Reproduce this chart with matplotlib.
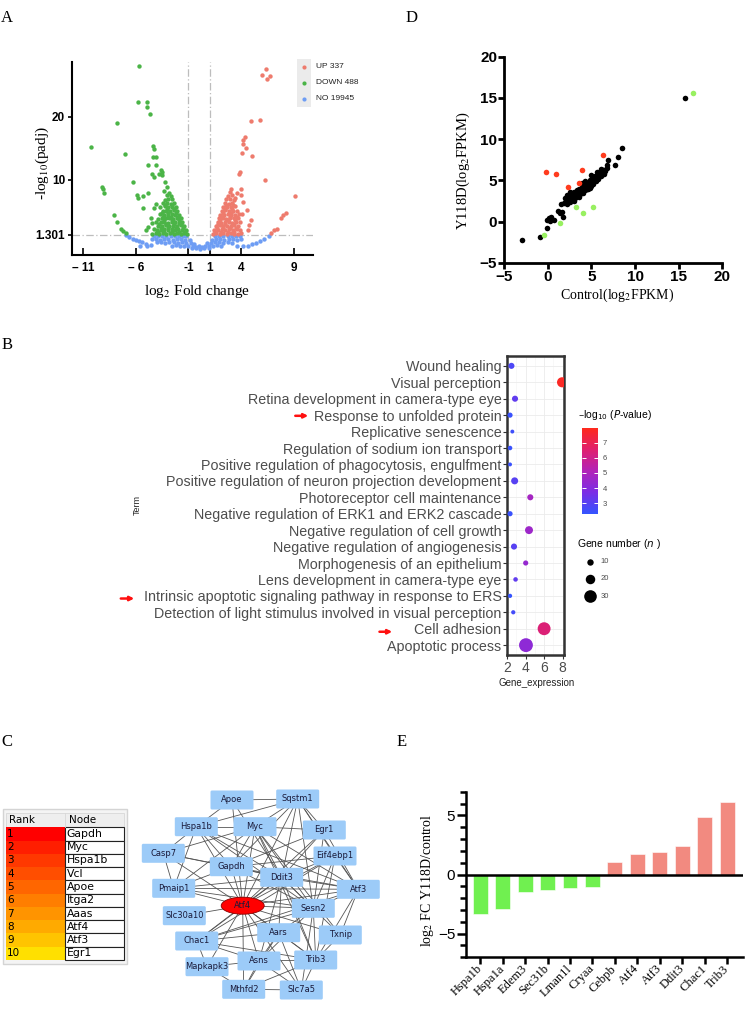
import numpy as np
import matplotlib
matplotlib.use("Agg")
import matplotlib.pyplot as plt
from matplotlib.patches import Rectangle, FancyBboxPatch, Ellipse, FancyArrowPatch
from matplotlib.colors import LinearSegmentedColormap, Normalize
from matplotlib.cm import ScalarMappable
from matplotlib.transforms import ScaledTranslation

plt.rcParams['font.family'] = ['Liberation Sans', 'DejaVu Sans']
SERIF = 'Liberation Serif'

# ---------------- A: volcano ----------------
up_count, down_count, no_count = 337, 488, 19945

up_pts = [(6.32, 27.6), (5.97, 26.6), (6.41, 26.0), (6.73, 26.5), (4.95, 19.4), (5.78, 19.5),
          (4.38, 16.8), (4.2, 16.4), (4.14, 15.7), (4.45, 15.0), (4.1, 14.3), (4.98, 13.8),
          (3.88, 11.3), (3.83, 11.0), (6.28, 10.0), (4.0, 8.5), (9.1, 7.5), (8.2, 4.8),
          (7.95, 4.4), (7.8, 3.9), (7.35, 2.3), (7.1, 2.0), (6.8, 1.6), (4.6, 2.1), (4.75, 2.8),
          (4.9, 3.6), (4.2, 6.5), (4.5, 5.2), (4.1, 4.6), (3.95, 7.6), (3.6, 8.0), (3.45, 7.2),
          (1.3, 1.5), (1.6, 1.6), (1.95, 1.45), (2.3, 1.55), (2.65, 1.5), (3.0, 1.6), (3.35, 1.45), (3.7, 1.5), (4.0, 1.6),
          (1.45, 2.1), (1.8, 2.0), (2.15, 2.2), (2.5, 2.05), (2.85, 2.15), (3.2, 2.0), (3.55, 2.2), (3.9, 2.1),
          (1.6, 2.7), (1.95, 2.8), (2.3, 2.65), (2.65, 2.75), (3.0, 2.7), (3.35, 2.8), (3.7, 2.65),
          (1.75, 3.3), (2.1, 3.25), (2.45, 3.4), (2.8, 3.3), (3.15, 3.2), (3.5, 3.35), (3.85, 3.3),
          (1.9, 3.9), (2.25, 4.0), (2.6, 3.85), (2.95, 3.95), (3.3, 3.9), (3.65, 4.0),
          (2.0, 4.5), (2.35, 4.45), (2.7, 4.6), (3.05, 4.5), (3.4, 4.4), (3.8, 4.55),
          (2.15, 5.1), (2.5, 5.2), (2.85, 5.05), (3.2, 5.15), (3.6, 5.1),
          (2.3, 5.7), (2.65, 5.75), (3.0, 5.65), (3.4, 5.8),
          (2.45, 6.3), (2.8, 6.25), (3.15, 6.4),
          (2.6, 6.9), (2.95, 7.0), (3.3, 6.85),
          (2.75, 7.5), (3.1, 7.55), (2.9, 8.1), (3.0, 8.6),
          (1.5, 1.8), (2.1, 1.8), (2.7, 1.8), (3.3, 1.8), (1.7, 2.4), (2.3, 2.4), (2.9, 2.4), (3.5, 2.4),
          (1.8, 3.0), (2.5, 3.0), (3.2, 3.0), (2.0, 3.6), (2.7, 3.6), (3.4, 3.6), (2.2, 4.2), (2.9, 4.2),
          (3.6, 4.2), (2.3, 4.8), (3.0, 4.8), (2.5, 5.45), (3.1, 5.45), (2.6, 6.0), (3.2, 6.05)]

down_pts = [(-5.66, 28.1), (-5.76, 22.3), (-4.9, 22.4), (-4.96, 21.6), (-4.65, 20.4), (-7.8, 19.1),
            (-10.27, 15.3), (-7.0, 14.1), (-4.4, 15.4), (-4.27, 14.9), (-4.33, 13.7), (-4.1, 13.6),
            (-4.87, 12.3), (-4.1, 12.3), (-3.6, 11.5), (-3.5, 11.2), (-3.8, 11.0), (-4.5, 11.0),
            (-4.3, 10.5), (-3.5, 10.8), (-6.3, 9.7), (-9.2, 8.9), (-9.1, 8.5), (-9.0, 8.0),
            (-3.07, 8.9), (-5.9, 7.6), (-5.8, 7.1), (-5.3, 7.5), (-4.85, 7.9), (-5.35, 5.5),
            (-4.1, 6.2), (-4.3, 5.6), (-8.1, 4.4), (-7.8, 3.4), (-7.4, 2.2), (-7.2, 1.9),
            (-6.9, 1.6), (-4.6, 4.0), (-4.5, 3.2), (-4.8, 2.6), (-5.0, 2.0), (-3.2, 9.6), (-3.3, 8.2),
            (-1.1, 1.5), (-1.4, 1.6), (-1.75, 1.45), (-2.1, 1.55), (-2.4, 1.5), (-2.75, 1.6), (-3.1, 1.45),
            (-3.4, 1.55), (-3.75, 1.5), (-4.1, 1.6), (-4.45, 1.45),
            (-1.25, 2.1), (-1.6, 2.0), (-1.95, 2.2), (-2.3, 2.05), (-2.6, 2.15), (-2.95, 2.0), (-3.3, 2.2),
            (-3.65, 2.1), (-4.0, 2.0), (-4.3, 2.15),
            (-1.4, 2.7), (-1.75, 2.8), (-2.1, 2.65), (-2.45, 2.75), (-2.8, 2.7), (-3.15, 2.8), (-3.5, 2.65), (-3.85, 2.75),
            (-1.6, 3.3), (-1.9, 3.25), (-2.25, 3.4), (-2.6, 3.3), (-2.95, 3.2), (-3.3, 3.35), (-3.65, 3.3), (-4.05, 3.4),
            (-1.75, 3.9), (-2.1, 4.0), (-2.45, 3.85), (-2.8, 3.95), (-3.15, 3.9), (-3.5, 4.0), (-3.9, 3.85),
            (-1.9, 4.5), (-2.25, 4.45), (-2.6, 4.6), (-2.95, 4.5), (-3.3, 4.4), (-3.7, 4.55),
            (-2.05, 5.1), (-2.4, 5.2), (-2.75, 5.05), (-3.1, 5.15), (-3.45, 5.1),
            (-2.2, 5.7), (-2.55, 5.75), (-2.9, 5.65), (-3.25, 5.8), (-3.7, 5.7),
            (-2.4, 6.3), (-2.7, 6.25), (-3.05, 6.4), (-3.4, 6.3),
            (-2.55, 6.9), (-2.9, 7.0), (-3.2, 6.85),
            (-2.7, 7.5), (-3.0, 7.55), (-2.85, 8.0),
            (-1.3, 1.8), (-1.9, 1.8), (-2.6, 1.8), (-3.3, 1.8), (-3.9, 1.8), (-1.5, 2.4), (-2.2, 2.4),
            (-2.9, 2.4), (-3.6, 2.4), (-1.7, 3.0), (-2.4, 3.0), (-3.1, 3.0), (-3.8, 3.0), (-1.9, 3.6),
            (-2.6, 3.6), (-3.3, 3.6), (-2.0, 4.2), (-2.7, 4.2), (-3.4, 4.2), (-2.2, 4.8), (-2.9, 4.8),
            (-3.5, 4.8), (-2.35, 5.45), (-3.0, 5.45), (-2.6, 6.05), (-3.2, 6.05)]

no_pts = [(-6.9, 1.2), (-6.6, 0.9), (-6.3, 0.7), (-6.0, 0.5), (-5.7, 0.3), (-5.4, 0.1), (-5.0, -0.1),
          (-4.6, -0.3), (-5.6, -0.4), (-4.9, -0.5),
          (-4.3, 1.1), (-3.9, 1.05), (-3.5, 1.15), (-3.1, 1.1), (-2.7, 1.05), (-2.3, 1.15), (-1.9, 1.1), (-1.5, 1.05), (-1.2, 1.1),
          (1.5, 1.1), (1.9, 1.05), (2.3, 1.15), (2.7, 1.1), (3.1, 1.05), (3.5, 1.15), (3.9, 1.1),
          (-4.5, 0.6), (-4.1, 0.65), (-3.7, 0.55), (-3.3, 0.6), (-2.9, 0.65), (-2.5, 0.55), (-2.1, 0.6), (-1.7, 0.65), (-1.3, 0.55), (-0.9, 0.5),
          (1.2, 0.5), (1.6, 0.6), (2.0, 0.65), (2.4, 0.55), (2.8, 0.6), (3.2, 0.65), (3.6, 0.55), (4.0, 0.6),
          (-4.0, 0.1), (-3.6, 0.15), (-3.2, 0.05), (-2.8, 0.1), (-2.4, 0.15), (-2.0, 0.05), (-1.6, 0.1), (-1.2, 0.05), (-0.8, 0.0), (-0.5, -0.1),
          (0.8, -0.05), (1.1, 0.05), (1.5, 0.1), (1.9, 0.15), (2.3, 0.05), (2.7, 0.1), (3.1, 0.0),
          (-2.6, -0.4), (-2.2, -0.35), (-1.8, -0.45), (-1.4, -0.4), (-1.0, -0.5), (-0.6, -0.55), (-0.3, -0.6),
          (0.0, -0.55), (0.3, -0.6), (0.6, -0.5), (0.9, -0.45), (1.3, -0.4), (1.7, -0.35), (2.1, -0.4),
          (-0.7, -0.8), (-0.3, -0.85), (0.1, -0.9), (0.5, -0.85), (0.9, -0.8),
          (3.6, -0.5), (4.2, -0.5), (4.6, -0.4), (5.0, -0.2), (5.4, 0.0), (5.8, 0.3), (6.2, 0.7), (6.6, 1.1)]

# ---------------- D: scatter ----------------
d_black = [(15.7, 15.0), (8.55, 8.9), (8.0, 7.85), (7.7, 6.85), (6.9, 7.45), (6.8, 6.9),
           (1.5, 2.1), (1.2, 1.3), (1.4, 1.0), (1.6, 1.1), (1.75, 0.6), (0.1, 0.4), (0.4, 0.6),
           (0.7, 0.2), (0.3, 0.1), (-0.1, 0.2), (-0.1, -0.75), (-0.88, -1.85), (-2.9, -2.25),
           (1.9, 2.3), (2.0, 2.9), (2.1, 2.6), (2.2, 2.1), (2.3, 2.8), (2.4, 3.2), (2.5, 2.4),
           (2.6, 2.9), (2.7, 3.4), (2.8, 2.7), (2.9, 3.1), (3.0, 3.6), (3.1, 2.9), (3.2, 3.3),
           (3.3, 3.8), (3.4, 3.1), (3.5, 3.5), (3.6, 4.0), (3.7, 3.3), (3.8, 3.7), (3.9, 4.2),
           (4.0, 3.5), (4.1, 3.9), (4.2, 4.4), (4.3, 3.8), (4.4, 4.2), (4.5, 4.7), (4.6, 4.0),
           (4.7, 4.5), (4.8, 5.0), (4.9, 4.3), (5.0, 4.8), (5.1, 5.3), (5.2, 4.6), (5.3, 5.0),
           (5.4, 5.5), (5.5, 4.9), (5.6, 5.3), (5.7, 5.7), (5.8, 5.2), (5.9, 5.6), (6.0, 6.0),
           (6.1, 5.5), (6.2, 5.9), (6.3, 6.2), (6.4, 5.8), (6.5, 6.3), (6.6, 6.1), (6.8, 6.5),
           (3.0, 2.5), (2.6, 3.6), (4.3, 4.9), (5.0, 5.6), (3.6, 3.0), (4.8, 4.1), (2.2, 3.2),
           (3.9, 4.7), (5.6, 6.0), (6.1, 6.4), (4.5, 3.9)]
d_red = [(-0.2, 5.95), (0.95, 5.75), (3.95, 6.25), (6.3, 8.05), (2.35, 4.2), (3.6, 4.7)]
d_green = [(16.7, 15.6), (-0.4, -1.65), (1.4, -0.15), (3.2, 1.7), (4.0, 1.0), (5.2, 1.7)]

# ---------------- B: GO dot plot ----------------
terms = ["Wound healing", "Visual perception", "Retina development in camera-type eye",
         "Response to unfolded protein", "Replicative senescence",
         "Regulation of sodium ion transport", "Positive regulation of phagocytosis, engulfment",
         "Positive regulation of neuron projection development", "Photoreceptor cell maintenance",
         "Negative regulation of ERK1 and ERK2 cascade", "Negative regulation of cell growth",
         "Negative regulation of angiogenesis", "Morphogenesis of an epithelium",
         "Lens development in camera-type eye",
         "Intrinsic apoptotic signaling pathway in response to ERS",
         "Detection of light stimulus involved in visual perception", "Cell adhesion",
         "Apoptotic process"]
gene_expr = [2.45, 7.95, 2.84, 2.3, 2.55, 2.3, 2.3, 2.8, 4.5, 2.3, 4.36, 2.73, 4.0, 2.9, 2.3, 2.65, 6.0, 4.03]
gene_num = [9, 22, 9, 6, 2, 4, 2, 12, 9, 6, 15, 9, 6, 4, 3, 3, 31, 34]
neg_log_p = [2.8, 7.8, 3.2, 2.4, 2.5, 2.4, 2.4, 3.0, 4.8, 2.4, 4.6, 3.0, 4.4, 3.2, 2.3, 2.6, 6.4, 4.2]
arrow_terms = ["Response to unfolded protein",
               "Intrinsic apoptotic signaling pathway in response to ERS", "Cell adhesion"]
size_legend = [10, 20, 30]

# ---------------- C: hub table and network ----------------
rank_nodes = ["Gapdh", "Myc", "Hspa1b", "Vcl", "Apoe", "Itga2", "Aaas", "Atf4", "Atf3", "Egr1"]
rank_colors = ["#FF0000", "#FF1E00", "#FF3800", "#FF4E00", "#FF6600", "#FF7E00",
               "#FF9400", "#FFAA00", "#FFC400", "#FFE000"]

net_names = ["Apoe", "Sqstm1", "Hspa1b", "Myc", "Egr1", "Casp7", "Eif4ebp1", "Gapdh", "Ddit3",
             "Pmaip1", "Atf3", "Atf4", "Sesn2", "Slc30a10", "Aars", "Txnip", "Chac1", "Asns",
             "Trib3", "Mapkapk3", "Mthfd2", "Slc7a5"]
net_x = [232, 297.7, 196.3, 255, 324.3, 163.3, 335, 231.3, 281.7, 173.7, 358.3, 242.7, 313.3,
         184.3, 278.7, 340.3, 196.7, 259, 315.7, 207, 243.7, 301.3]
net_y = [800, 799, 826.7, 826.7, 830, 853.3, 856, 866.7, 877.3, 888.3, 889.3, 905.7, 908.3,
         915.7, 932.7, 935, 941, 961, 960, 966.7, 989.3, 990]
net_edges = [("Apoe", "Sqstm1"), ("Apoe", "Hspa1b"), ("Apoe", "Atf4"), ("Apoe", "Ddit3"),
             ("Sqstm1", "Myc"), ("Sqstm1", "Gapdh"), ("Sqstm1", "Ddit3"), ("Sqstm1", "Atf4"),
             ("Sqstm1", "Egr1"), ("Sqstm1", "Sesn2"), ("Sqstm1", "Atf3"), ("Sqstm1", "Hspa1b"),
             ("Sqstm1", "Eif4ebp1"), ("Hspa1b", "Myc"), ("Hspa1b", "Casp7"), ("Hspa1b", "Gapdh"),
             ("Hspa1b", "Ddit3"), ("Hspa1b", "Atf4"), ("Hspa1b", "Pmaip1"), ("Hspa1b", "Sesn2"),
             ("Hspa1b", "Atf3"), ("Myc", "Gapdh"), ("Myc", "Ddit3"), ("Myc", "Atf4"), ("Myc", "Egr1"),
             ("Myc", "Sesn2"), ("Myc", "Atf3"), ("Myc", "Trib3"), ("Myc", "Pmaip1"), ("Myc", "Casp7"),
             ("Myc", "Txnip"), ("Egr1", "Gapdh"), ("Egr1", "Ddit3"), ("Egr1", "Atf3"), ("Egr1", "Atf4"),
             ("Egr1", "Sesn2"), ("Casp7", "Gapdh"), ("Casp7", "Ddit3"), ("Casp7", "Pmaip1"),
             ("Casp7", "Atf4"), ("Eif4ebp1", "Gapdh"), ("Eif4ebp1", "Ddit3"), ("Eif4ebp1", "Atf4"),
             ("Eif4ebp1", "Sesn2"), ("Eif4ebp1", "Atf3"), ("Eif4ebp1", "Trib3"), ("Eif4ebp1", "Chac1"),
             ("Gapdh", "Ddit3"), ("Gapdh", "Atf4"), ("Gapdh", "Atf3"), ("Gapdh", "Sesn2"),
             ("Gapdh", "Pmaip1"), ("Ddit3", "Atf4"), ("Ddit3", "Atf3"), ("Ddit3", "Sesn2"),
             ("Ddit3", "Trib3"), ("Ddit3", "Chac1"), ("Ddit3", "Asns"), ("Ddit3", "Aars"),
             ("Ddit3", "Pmaip1"), ("Ddit3", "Txnip"), ("Pmaip1", "Atf4"), ("Pmaip1", "Atf3"),
             ("Pmaip1", "Sesn2"), ("Atf3", "Atf4"), ("Atf3", "Sesn2"), ("Atf3", "Txnip"),
             ("Atf3", "Trib3"), ("Atf3", "Chac1"), ("Atf4", "Sesn2"), ("Atf4", "Slc30a10"),
             ("Atf4", "Chac1"), ("Atf4", "Asns"), ("Atf4", "Aars"), ("Atf4", "Trib3"),
             ("Atf4", "Mthfd2"), ("Atf4", "Mapkapk3"), ("Atf4", "Slc7a5"), ("Atf4", "Txnip"),
             ("Sesn2", "Chac1"), ("Sesn2", "Trib3"), ("Sesn2", "Aars"), ("Sesn2", "Slc7a5"),
             ("Sesn2", "Asns"), ("Chac1", "Aars"), ("Chac1", "Asns"), ("Chac1", "Trib3"),
             ("Chac1", "Mapkapk3"), ("Aars", "Asns"), ("Aars", "Trib3"), ("Aars", "Slc7a5"),
             ("Aars", "Mthfd2"), ("Asns", "Trib3"), ("Asns", "Mthfd2"), ("Asns", "Slc7a5"),
             ("Asns", "Mapkapk3"), ("Trib3", "Slc7a5"), ("Trib3", "Mthfd2"), ("Trib3", "Txnip"),
             ("Mthfd2", "Slc7a5"), ("Mapkapk3", "Mthfd2")]

# ---------------- E: bar chart ----------------
e_genes = ["Hspa1b", "Hspa1a", "Edem3", "Sec31b", "Lman1l", "Cryaa", "Cebpb", "Atf4", "Atf3",
           "Ddit3", "Chac1", "Trib3"]
e_fc = [-3.35, -2.93, -1.44, -1.35, -1.15, -1.04, 1.07, 1.77, 1.92, 2.39, 4.82, 6.11]

# =================================================================
W, H = 752, 1011
fig = plt.figure(figsize=(W / 100, H / 100), dpi=100)


def rect(l, t, r, b):
    return [l / W, 1 - b / H, (r - l) / W, (b - t) / H]


def ftext(x, y, s, **kw):
    return fig.text(x / W, 1 - y / H, s, **kw)


for lab, (x, y) in zip("ADBCE", [(7, 18), (412, 18), (7, 345), (7, 742), (402, 742)]):
    ftext(x, y, lab, family=SERIF, fontsize=12, ha='center', va='center')

# ---- A ----
ax = fig.add_axes(rect(72, 62, 313, 255))
col_up, col_down, col_no = '#EE7B6D', '#4BB447', '#6E9DF4'
for pts, c in [(no_pts, col_no), (down_pts, col_down), (up_pts, col_up)]:
    arr = np.array(pts)
    ax.scatter(arr[:, 0], arr[:, 1], s=10, c=c, linewidths=0, zorder=2)
for v in (-1, 1):
    ax.axvline(v, color='#BDBDBD', lw=0.9, dashes=(6, 2, 1, 2), zorder=1)
ax.axhline(1.301, color='#BDBDBD', lw=0.9, dashes=(6, 2, 1, 2), zorder=1)
ax.set_xlim(-12.04, 10.8)
ax.set_ylim(-1.9, 28.7)
ax.set_xticks([-11, -6, -1, 1, 4, 9])
ax.set_xticklabels(['\u2013 11', '\u2013 6', '-1', '1', '4', '9'], fontweight='bold', fontsize=8.5)
ax.set_yticks([1.301, 10, 20])
ax.set_yticklabels(['1.301', '10', '20'], fontweight='bold', fontsize=8.5)
ax.tick_params(axis='x', direction='in', length=5, width=1.2, pad=5)
ax.tick_params(axis='y', direction='out', length=3, width=1.2, pad=2)
for s in ('top', 'right'):
    ax.spines[s].set_visible(False)
for s in ('left', 'bottom'):
    ax.spines[s].set_linewidth(1.5)
ftext(42, 163, '-log$_{10}$(padj)', family=SERIF, fontsize=11, rotation=90,
      ha='center', va='center', math_fontfamily='stix')
ftext(197, 291, 'log$_2$ Fold change', family=SERIF, fontsize=11,
      ha='center', va='center', math_fontfamily='stix')

lax = fig.add_axes(rect(297, 59, 370, 107))
lax.set_xlim(0, 73 / 14)
lax.set_ylim(3, 0)
lax.axis('off')
for i, (lab, c) in enumerate([(f'UP {up_count}', col_up), (f'DOWN {down_count}', col_down),
                              (f'NO {no_count}', col_no)]):
    lax.add_patch(Rectangle((0, i + 0.03), 1, 0.94, color='#EBEBEB', lw=0))
    lax.scatter([0.5], [i + 0.5], s=9, c=c, linewidths=0)
    lax.text(1.35, i + 0.5, lab, fontsize=6, va='center', color='#222222')

# ---- D ----
ax = fig.add_axes(rect(504.1, 56.7, 722.3, 262.7))
for pts, c in [(d_black, 'black'), (d_red, '#FF3C1E'), (d_green, '#98F060')]:
    arr = np.array(pts)
    ax.scatter(arr[:, 0], arr[:, 1], s=16, c=c, linewidths=0, zorder=3, clip_on=False)
ax.set_xlim(-5, 20)
ax.set_ylim(-5, 20)
ax.set_xticks(range(-5, 21, 5))
ax.set_yticks(range(-5, 21, 5))
for s in ('top', 'right'):
    ax.spines[s].set_visible(False)
for s in ('left', 'bottom'):
    ax.spines[s].set_linewidth(2)
ax.tick_params(direction='out', length=4, width=2, labelsize=11, pad=1)
for t in ax.get_xticklabels() + ax.get_yticklabels():
    t.set_fontweight('bold')
ftext(463, 171, 'Y118D(log$_2$FPKM)', family=SERIF, fontsize=10.5, rotation=90,
      ha='center', va='center', math_fontfamily='stix')
ftext(617, 295, 'Control(log$_2$FPKM)', family=SERIF, fontsize=10,
      ha='center', va='center', math_fontfamily='stix')

# ---- B ----
cmap = LinearSegmentedColormap.from_list(
    'bp', ['#3355FF', '#7A2EE6', '#B223B8', '#E0206E', '#FF2A1A'])
norm = Normalize(2.27, 7.99)


def dot_size(n):
    d_px = 3.3 + 0.31 * np.asarray(n, dtype=float)
    return (d_px * 0.72) ** 2


ax = fig.add_axes(rect(507, 356, 564, 655))
idx = np.arange(len(terms))
ax.scatter(gene_expr, idx, s=dot_size(gene_num), c=neg_log_p, cmap=cmap, norm=norm,
           linewidths=0, zorder=3)
ax.set_xlim(1.97, 8.16)
ax.set_ylim(len(terms) - 0.4, -0.6)
ax.set_xticks([2, 4, 6, 8])
ax.set_xticks([3, 5, 7], minor=True)
ax.set_yticks(idx)
ax.set_yticklabels(terms, fontsize=10.3, color='#4D4D4D')
ax.grid(True, which='major', color='#EBEBEB', lw=0.6, zorder=0)
ax.grid(True, which='minor', axis='x', color='#F4F4F4', lw=0.4, zorder=0)
ax.set_axisbelow(True)
ax.tick_params(axis='x', which='major', labelsize=10, labelcolor='#4D4D4D', length=3,
               color='#333333', pad=1)
ax.tick_params(axis='x', which='minor', length=0)
ax.tick_params(axis='y', length=3, color='#333333', pad=1)
for s in ax.spines.values():
    s.set_linewidth(1.8)
    s.set_color('#333333')
ftext(137, 505, 'Term', fontsize=6.5, rotation=90, ha='center', va='center', color='#222222')
ftext(537, 683, 'Gene_expression', fontsize=7, ha='center', va='center', color='#222222')

arrow_x = {terms[3]: (292.5, 311), terms[14]: (118, 137), terms[16]: (376.7, 395)}
for t in arrow_terms:
    y_px = 356 + (terms.index(t) + 0.6) * (299 / 18.0)
    x0, x1 = arrow_x[t]
    fig.add_artist(FancyArrowPatch((x0 / W, 1 - y_px / H), (x1 / W, 1 - y_px / H),
                                   transform=fig.transFigure, arrowstyle='-|>',
                                   mutation_scale=6, color='#FF1010', lw=1.8))

cax = fig.add_axes(rect(581.7, 427.7, 598.3, 514.3))
cb = fig.colorbar(ScalarMappable(norm=norm, cmap=cmap), cax=cax, ticks=[3, 4, 5, 6, 7])
cb.outline.set_visible(False)
cax.tick_params(direction='in', length=3, width=0.7, color='white', labelsize=5.5,
                labelcolor='#4D4D4D', left=True, right=True, pad=3)
ftext(577.7, 415, '\u2013log$_{10}$ ($P$-value)', fontsize=7.5, ha='left', va='center',
      math_fontfamily='dejavusans')
ftext(576.7, 544, 'Gene number ($n$ )', fontsize=7.5, ha='left', va='center',
      math_fontfamily='dejavusans')
sax = fig.add_axes(rect(570, 550, 640, 606))
sax.set_xlim(570, 640)
sax.set_ylim(606, 550)
sax.axis('off')
for i, n in enumerate(size_legend):
    yy = 561.7 + 17.2 * i
    sax.scatter([590], [yy], s=dot_size(n), c='black', linewidths=0)
    sax.text(600.5, yy, str(n), fontsize=5.5, va='center', color='#4D4D4D')

# ---- C: table ----
tax = fig.add_axes(rect(0, 800, 135, 970))
tax.set_xlim(0, 135)
tax.set_ylim(970, 800)
tax.axis('off')
tab_l, tab_m, tab_r = 6.0, 65.0, 124.3
head_t, row_t, row_h = 813.0, 827.3, 13.27
tax.add_patch(Rectangle((2.7, 809.3), 124.6, 154.7, fc='#F4F4F4', ec='#D4D4D4', lw=1))
tax.add_patch(Rectangle((tab_l, head_t), tab_r - tab_l, row_t - head_t, fc='#EEEEEE',
                        ec='#D8D8D8', lw=0.6))
tax.plot([tab_m, tab_m], [head_t, row_t], color='#D8D8D8', lw=0.6)
tax.text(tab_l + 3, (head_t + row_t) / 2, 'Rank', fontsize=7.5, va='center', family='DejaVu Sans')
tax.text(tab_m + 4, (head_t + row_t) / 2, 'Node', fontsize=7.5, va='center', family='DejaVu Sans')
for i, (nm, c) in enumerate(zip(rank_nodes, rank_colors)):
    y0 = row_t + i * row_h
    tax.add_patch(Rectangle((tab_l, y0), tab_m - tab_l, row_h, fc=c, ec='none'))
    tax.add_patch(Rectangle((tab_m, y0), tab_r - tab_m, row_h, fc='white', ec='#222222', lw=0.8))
    tax.text(tab_l + 1, y0 + row_h / 2, str(i + 1), fontsize=7.5, va='center', family='DejaVu Sans')
    tax.text(tab_m + 1.5, y0 + row_h / 2, nm, fontsize=7.8, va='center', family='DejaVu Sans')

# ---- C: network ----
nax = fig.add_axes(rect(130, 785, 395, 1005))
nax.set_xlim(130, 395)
nax.set_ylim(1005, 785)
nax.axis('off')
pos = {n: (x, y) for n, x, y in zip(net_names, net_x, net_y)}
for a, b in net_edges:
    nax.plot([pos[a][0], pos[b][0]], [pos[a][1], pos[b][1]], color='#555555', lw=0.6, zorder=1)
bw, bh = 43, 19
for n in net_names:
    x, y = pos[n]
    if n == 'Atf4':
        nax.add_patch(Ellipse((x, y), 43, 17, fc='#FF0000', ec='#8B0000', lw=0.6, zorder=2))
    else:
        nax.add_patch(FancyBboxPatch((x - bw / 2 + 1.5, y - bh / 2 + 1.5), bw - 3, bh - 3,
                                     boxstyle='round,pad=1.5', fc='#9CCBF8', ec='none', zorder=2))
    nax.text(x, y, n, fontsize=6, ha='center', va='center', color='#1A1A3A', zorder=3,
             family='DejaVu Sans')

# ---- E ----
ax = fig.add_axes(rect(465.7, 791.7, 743.3, 957.3))
xi = np.arange(len(e_genes))
ax.bar(xi, e_fc, width=0.667, color=['#F28A80' if v > 0 else '#70F050' for v in e_fc],
       edgecolor='white', linewidth=0.4, zorder=2)
ax.axhline(0, color='black', lw=1.8, zorder=3)
ax.set_xlim(-0.64, 11.71)
ax.set_ylim(-7, 7)
ax.set_yticks([-5, 0, 5])
ax.set_yticks(range(-7, 8), minor=True)
ax.set_xticks(xi)
ax.set_xticklabels(e_genes, family=SERIF, fontsize=9, rotation=45, ha='right', va='center',
                   rotation_mode='anchor')
for lbl in ax.get_xticklabels():
    lbl.set_transform(lbl.get_transform() + ScaledTranslation(7 / 72, -2 / 72, fig.dpi_scale_trans))
for s in ('top', 'right'):
    ax.spines[s].set_visible(False)
for s in ('left', 'bottom'):
    ax.spines[s].set_linewidth(1.8)
ax.tick_params(axis='y', which='major', length=6.5, width=1.8, labelsize=11, pad=1)
ax.tick_params(axis='y', which='minor', length=4, width=1.8)
ax.tick_params(axis='x', length=5, width=1.8, pad=2)
ftext(428, 880, 'log$_2$ FC Y118D/control', family=SERIF, fontsize=10, rotation=90,
      ha='center', va='center', math_fontfamily='stix')

fig.savefig('out.png', dpi=100)
